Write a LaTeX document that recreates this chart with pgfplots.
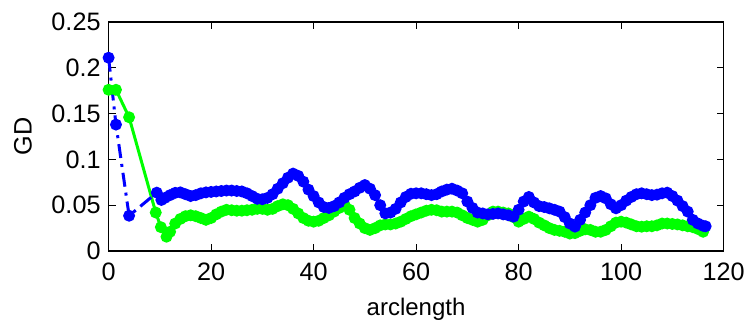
\documentclass[border=0pt]{standalone}
\usepackage{pgfplots}
\pgfplotsset{compat=1.18}
\usepackage{pgfplotstable}
\usepackage{fontspec}
\setmainfont{Liberation Sans}
\definecolor{mblue}{rgb}{0,0,1}
\definecolor{mgreen}{rgb}{0,1,0}
\pgfplotstableread{
x y
0 0.211
1.44 0.138
4.0 0.0385
9.4 0.0637
10.3 0.0557
11 0.058
12 0.061
13 0.0635
14 0.064
15 0.062
16 0.060
17 0.061
18 0.063
19 0.064
20 0.0645
21 0.065
22 0.0655
23 0.066
24 0.066
25 0.0655
26 0.065
27 0.063
28 0.060
29 0.057
30 0.0565
31 0.058
32 0.062
33 0.068
34 0.074
35 0.080
36 0.0845
37 0.082
38 0.0757
39 0.067
40 0.060
41 0.053
42 0.048
43 0.047
44 0.049
45 0.053
46 0.058
47 0.062
48 0.065
49 0.069
50 0.072
51 0.068
52 0.061
53 0.050
54 0.041
55 0.042
56 0.046
57 0.053
58 0.059
59 0.0625
60 0.063
61 0.063
62 0.062
63 0.061
64 0.062
65 0.065
66 0.067
67 0.068
68 0.066
69 0.063
70 0.054
71 0.047
72 0.042
73 0.041
74 0.040
75 0.0405
76 0.041
77 0.040
78 0.039
79 0.0375
80 0.045
81 0.054
82 0.059
83 0.053
84 0.049
85 0.048
86 0.0466
87 0.045
88 0.043
89 0.037
90 0.030
91 0.0266
92 0.034
93 0.042
94 0.050
95 0.058
96 0.060
97 0.0575
98 0.051
99 0.0466
100 0.050
101 0.055
102 0.059
103 0.062
104 0.063
105 0.062
106 0.061
107 0.0615
108 0.063
109 0.0637
110 0.060
111 0.055
112 0.049
113 0.043
114 0.034
115 0.030
116 0.0275
116.5 0.027
}\bluedata
\pgfplotstableread{
x y
0 0.176
1.44 0.176
4.0 0.146
9.2 0.042
10.2 0.026
11.3 0.0156
12 0.021
13 0.030
14 0.035
15 0.038
16 0.039
17 0.038
18 0.036
19 0.034
20 0.036
21 0.040
22 0.043
23 0.045
24 0.0445
25 0.044
26 0.044
27 0.0445
28 0.045
29 0.046
30 0.046
31 0.045
32 0.046
33 0.049
34 0.051
35 0.050
36 0.046
37 0.041
38 0.036
39 0.033
40 0.032
41 0.033
42 0.036
43 0.039
44 0.043
45 0.047
46 0.051
47 0.045
48 0.036
49 0.030
50 0.025
51 0.023
52 0.025
53 0.028
54 0.029
55 0.029
56 0.030
57 0.032
58 0.035
59 0.038
60 0.040
61 0.042
62 0.044
63 0.045
64 0.0445
65 0.043
66 0.043
67 0.043
68 0.042
69 0.039
70 0.036
71 0.034
72 0.032
73 0.034
74 0.039
75 0.043
76 0.043
77 0.042
78 0.041
79 0.037
80 0.032
81 0.035
82 0.0375
83 0.035
84 0.031
85 0.028
86 0.025
87 0.023
88 0.022
89 0.021
90 0.019
91 0.0195
92 0.022
93 0.0237
94 0.023
95 0.021
96 0.021
97 0.023
98 0.027
99 0.031
100 0.032
101 0.031
102 0.029
103 0.027
104 0.0265
105 0.027
106 0.027
107 0.028
108 0.030
109 0.030
110 0.0295
111 0.029
112 0.028
113 0.027
114 0.026
115 0.024
116 0.021
}\greendata
\begin{document}
\begin{tikzpicture}
\begin{axis}[
  name=ax,
  scale only axis,
  width=307.5pt, height=114.5pt,
  xmin=0, xmax=120, ymin=0, ymax=0.25,
  axis line style={line width=0.8pt},
  xtick={0,20,40,60,80,100,120},
  xticklabels={0,20,40,60,80,100,120},
  ytick={0,0.05,0.1,0.15,0.2,0.25},
  yticklabels={0,0.05,0.1,0.15,0.2,0.25},
  tick align=inside,
  major tick length=3.5pt,
  tick style={line width=0.6pt, black},
  every tick label/.append style={font=\fontsize{12.6}{14}\selectfont},
  xticklabel style={yshift=-2.5pt},
  yticklabel style={xshift=-0.5pt},
  every axis x label/.style={at={(axis description cs:0.5,0)}, anchor=base, yshift=-32pt, font=\fontsize{12}{14}\selectfont},
  every axis y label/.style={at={(axis description cs:0,0.5)}, rotate=90, anchor=center, yshift=42.8pt, font=\fontsize{12.6}{14}\selectfont},
  xlabel={arclength},
  ylabel={GD},
  clip=false,
]
\addplot[color=mgreen, line width=1.5pt, mark=*, mark size=2.2pt, mark options={solid, fill=mgreen, draw=mgreen}] table[x=x,y=y] {\greendata};
\addplot[color=mblue, line width=1.5pt, dash pattern=on 7pt off 3pt on 1.5pt off 3pt, mark=*, mark size=2.2pt, mark options={solid, fill=mblue, draw=mblue}] table[x=x,y=y] {\bluedata};
\end{axis}
\pgfresetboundingbox
\path (ax.south west) ++(-54.3pt,-35pt) rectangle ++(375pt,160.5pt);
\end{tikzpicture}
\end{document}
